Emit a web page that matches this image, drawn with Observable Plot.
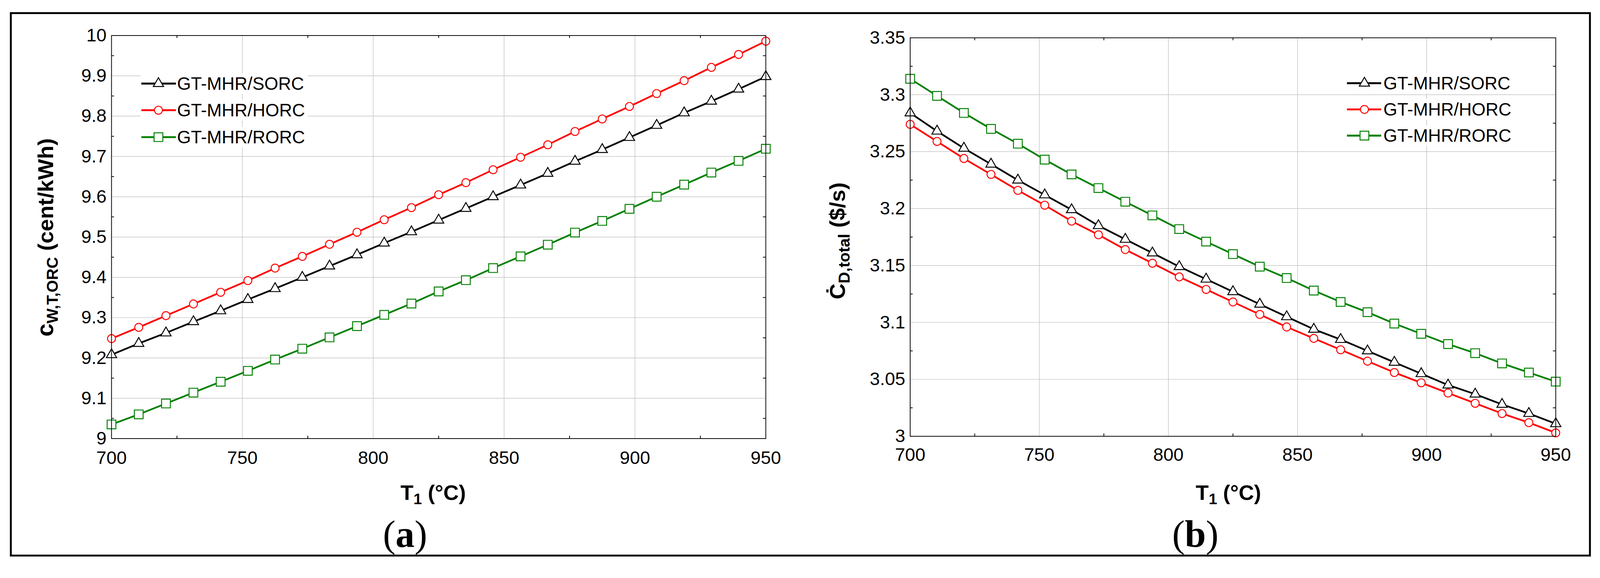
<!DOCTYPE html>
<html>
<head>
<meta charset="utf-8">
<script src="https://cdn.jsdelivr.net/npm/d3@7"></script>
<script src="https://cdn.jsdelivr.net/npm/@observablehq/plot@0.6"></script>
<style>
  html, body { margin: 0; padding: 0; background: #fff; overflow: hidden; }
  #root { position: absolute; left: 0; top: 0; width: 4211px; height: 1480px; background: #fff; overflow: hidden;
          transform-origin: 0 0; }
  .panel { position: absolute; top: 0; }
  #frame { position: absolute; left: 26px; top: 32px; width: 4161px; height: 1433px; box-sizing: border-box;
           border: 5px solid #000; pointer-events: none; z-index: 10; }
</style>
</head>
<body>
<div id="root"></div>
<script>
// ---------------- data ----------------
const T1 = [700, 710.4, 720.8, 731.3, 741.7, 752.1, 762.5, 772.9, 783.3, 793.8, 804.2, 814.6, 825,
            835.4, 845.8, 856.3, 866.7, 877.1, 887.5, 897.9, 908.3, 918.8, 929.2, 939.6, 950];

const seriesNames = ["GT-MHR/SORC", "GT-MHR/HORC", "GT-MHR/RORC"];
const seriesColors = ["#000000", "#ff0000", "#008000"];
const seriesSymbols = ["triangle", "circle", "square"];

// (a) c_W,T,ORC (cent/kWh)
const cw_SORC = [9.208, 9.236, 9.262, 9.290, 9.317, 9.345, 9.372, 9.400, 9.428, 9.456, 9.485, 9.513, 9.542,
                 9.571, 9.600, 9.629, 9.658, 9.688, 9.717, 9.747, 9.777, 9.808, 9.837, 9.867, 9.898];
const cw_HORC = [9.248, 9.276, 9.305, 9.334, 9.363, 9.392, 9.423, 9.452, 9.482, 9.512, 9.543, 9.573, 9.605,
                 9.635, 9.667, 9.698, 9.729, 9.762, 9.793, 9.824, 9.856, 9.888, 9.921, 9.953, 9.986];
const cw_RORC = [9.035, 9.060, 9.087, 9.114, 9.141, 9.168, 9.196, 9.223, 9.251, 9.279, 9.307, 9.335, 9.365,
                 9.393, 9.423, 9.452, 9.481, 9.511, 9.540, 9.570, 9.600, 9.630, 9.660, 9.689, 9.719];

// (b) C_D,total ($/s)
const cd_SORC = [3.284, 3.268, 3.253, 3.239, 3.225, 3.212, 3.199, 3.185, 3.173, 3.161, 3.149, 3.138, 3.127,
                 3.116, 3.105, 3.094, 3.085, 3.075, 3.065, 3.055, 3.045, 3.037, 3.028, 3.020, 3.011];
const cd_HORC = [3.274, 3.259, 3.244, 3.230, 3.216, 3.203, 3.189, 3.177, 3.164, 3.152, 3.140, 3.129, 3.118,
                 3.107, 3.096, 3.086, 3.076, 3.066, 3.056, 3.047, 3.038, 3.029, 3.020, 3.012, 3.003];
const cd_RORC = [3.314, 3.299, 3.284, 3.270, 3.257, 3.243, 3.230, 3.218, 3.206, 3.194, 3.182, 3.171, 3.160,
                 3.149, 3.139, 3.128, 3.118, 3.109, 3.099, 3.090, 3.081, 3.073, 3.064, 3.056, 3.048];

// ticks
const xTicks = [700, 750, 800, 850, 900, 950];
const xGrid = [750, 800, 850, 900];
const xMinor = [725, 775, 825, 875, 925];
const yTicksA = [9, 9.1, 9.2, 9.3, 9.4, 9.5, 9.6, 9.7, 9.8, 9.9, 10];
const yGridA = [9.1, 9.2, 9.3, 9.4, 9.5, 9.6, 9.7, 9.8, 9.9];
const yMinorA = [9.05, 9.15, 9.25, 9.35, 9.45, 9.55, 9.65, 9.75, 9.85, 9.95];
const yTicksB = [3, 3.05, 3.1, 3.15, 3.2, 3.25, 3.3, 3.35];
const yGridB = [3.05, 3.1, 3.15, 3.2, 3.25, 3.3];
const yMinorB = [3.025, 3.075, 3.125, 3.175, 3.225, 3.275, 3.325];

// ---------------- drawing ----------------
const FONT = "Arial, 'Liberation Sans', sans-serif";
const SERIF = "'Times New Roman', 'Liberation Serif', serif";
const symR = {triangle: 10, circle: 10.5, square: 13};
const d3Sym = {triangle: d3.symbolTriangle, circle: d3.symbolCircle, square: d3.symbolSquare};
const root = document.getElementById("root");

function rows(values) { return T1.map((t, i) => ({t, v: values[i]})); }

function makePanel(cfg) {
  const H = 1480;
  const plotW = cfg.width - cfg.mL - cfg.mR;
  const plotH = H - cfg.mT - cfg.mB;
  const gridStyle = {stroke: "#c4c4c4", strokeOpacity: 1, strokeWidth: 1.5};
  const tickStyle = {stroke: "#000", strokeWidth: 2};
  const lineMarks = cfg.series.map((s, i) =>
    Plot.line(rows(s), {x: "t", y: "v", stroke: seriesColors[i], strokeWidth: 4.5}));
  const dotMarks = cfg.series.map((s, i) =>
    Plot.dot(rows(s), {x: "t", y: "v", symbol: seriesSymbols[i], r: symR[seriesSymbols[i]],
                       fill: "#fff", stroke: seriesColors[i], strokeWidth: 2.5}));
  const svg = Plot.plot({
    width: cfg.width, height: H,
    marginLeft: cfg.mL, marginRight: cfg.mR, marginTop: cfg.mT, marginBottom: cfg.mB,
    style: {fontFamily: FONT, fontSize: "48px", color: "#000", background: "transparent", overflow: "visible",
            maxWidth: "none"},
    x: {domain: [700, 950]},
    y: {domain: cfg.yDomain},
    marks: [
      Plot.gridX(xGrid, gridStyle),
      Plot.gridY(cfg.yGrid, gridStyle),
      Plot.tickX(xMinor, {x: d => d, insetTop: plotH - 7, ...tickStyle}),
      Plot.tickX(xMinor, {x: d => d, insetBottom: plotH - 7, ...tickStyle}),
      Plot.tickY(cfg.yMinor, {y: d => d, insetRight: plotW - 7, ...tickStyle}),
      Plot.tickY(cfg.yMinor, {y: d => d, insetLeft: plotW - 7, ...tickStyle}),
      Plot.axisX({ticks: xTicks, tickSize: 0, tickPadding: cfg.xPad, label: null, tickFormat: d => String(d)}),
      Plot.axisY({ticks: cfg.yTicks, tickSize: 0, tickPadding: 13, label: null,
                  tickFormat: d => String(+d.toFixed(3))}),
      ...lineMarks,
      ...dotMarks,
      Plot.frame({stroke: "#000", strokeWidth: 2})
    ]
  });
  svg.classList.add("panel");
  svg.style.left = cfg.left + "px";
  svg.style.width = cfg.width + "px";
  svg.style.height = H + "px";
  root.appendChild(svg);

  const g = d3.select(svg).append("g").attr("font-family", FONT).attr("fill", "#000");

  // legend
  const lg = cfg.legend;
  seriesNames.forEach((name, i) => {
    const y = lg.rows[i];
    g.append("rect").attr("x", lg.x1 - 2).attr("y", y - 27).attr("width", lg.bgW).attr("height", 54).attr("fill", "#fff");
  });
  seriesNames.forEach((name, i) => {
    const y = lg.rows[i];
    g.append("line").attr("x1", lg.x1).attr("x2", lg.x2).attr("y1", y).attr("y2", y)
      .attr("stroke", seriesColors[i]).attr("stroke-width", 5);
    const r = symR[seriesSymbols[i]];
    g.append("path").attr("transform", `translate(${lg.mx},${y})`)
      .attr("d", d3.symbol(d3Sym[seriesSymbols[i]], Math.PI * r * r)())
      .attr("fill", "#fff").attr("stroke", seriesColors[i]).attr("stroke-width", 2.5);
    g.append("text").attr("x", lg.tx).attr("y", y + 16.5).attr("font-size", 47)
      .attr("text-anchor", "start").text(name);
  });

  // y title (rotated)
  const yt = g.append("text")
    .attr("transform", `translate(${cfg.yTitle.x},${cfg.yTitle.y}) rotate(-90)`)
    .attr("text-anchor", "middle").attr("font-weight", "bold").attr("font-size", 58);
  yt.append("tspan").attr("font-size", cfg.yTitle.mainSize).text(cfg.yTitle.main);
  yt.append("tspan").attr("font-size", 42).attr("dy", 12).text(cfg.yTitle.sub);
  yt.append("tspan").attr("dy", -12).text("\u00a0" + cfg.yTitle.unit);

  // x title
  const xt = g.append("text").attr("x", cfg.xTitleX).attr("y", 1316)
    .attr("text-anchor", "middle").attr("font-weight", "bold").attr("font-size", 56);
  xt.append("tspan").text("T");
  xt.append("tspan").attr("font-size", 40).attr("dy", 11).text("1");
  xt.append("tspan").attr("dy", -11).text(" (°C)");

  // panel label
  const pl = g.append("text").attr("x", cfg.labelX).attr("y", 1439)
    .attr("text-anchor", "middle").attr("font-family", SERIF).attr("font-size", 100);
  pl.append("tspan").text("(");
  pl.append("tspan").attr("font-weight", "bold").text(cfg.label);
  pl.append("tspan").text(")");
}

makePanel({
  left: 0, width: 2105, mL: 293, mR: 90, mT: 93, mB: 326, xPad: 33,
  yDomain: [9, 10], yTicks: yTicksA, yGrid: yGridA, yMinor: yMinorA,
  series: [cw_SORC, cw_HORC, cw_RORC],
  legend: {x1: 372, x2: 463, mx: 417, tx: 466, bgW: 440, rows: [220, 290, 361]},
  yTitle: {x: 140, y: 625, main: "c", mainSize: 62, sub: "W,T,ORC", unit: "(cent/kWh)"},
  xTitleX: 1140, labelX: 1066, label: "a"
});

makePanel({
  left: 2105, width: 2106, mL: 290, mR: 117, mT: 99, mB: 332, xPad: 31,
  yDomain: [3, 3.35], yTicks: yTicksB, yGrid: yGridB, yMinor: yMinorB,
  series: [cd_SORC, cd_HORC, cd_RORC],
  legend: {x1: 1440, x2: 1530, mx: 1486, tx: 1536, bgW: 440, rows: [219, 288, 357]},
  yTitle: {x: 119, y: 634, main: "\u010A", mainSize: 58, sub: "D,total", unit: "($/s)"},
  xTitleX: 1128, labelX: 1041, label: "b"
});

const frame = document.createElement("div");
frame.id = "frame";
root.appendChild(frame);

// fit the 4211x1480 drawing into the actual viewport, keeping its aspect ratio
function fit() {
  const vw = document.documentElement.clientWidth || window.innerWidth;
  const vh = document.documentElement.clientHeight || window.innerHeight;
  const s = Math.min(vw / 4211, vh / 1480);
  root.style.transform = Math.abs(s - 1) > 0.002 ? `scale(${s})` : "none";
}
fit();
window.addEventListener("resize", fit);
</script>
</body>
</html>
